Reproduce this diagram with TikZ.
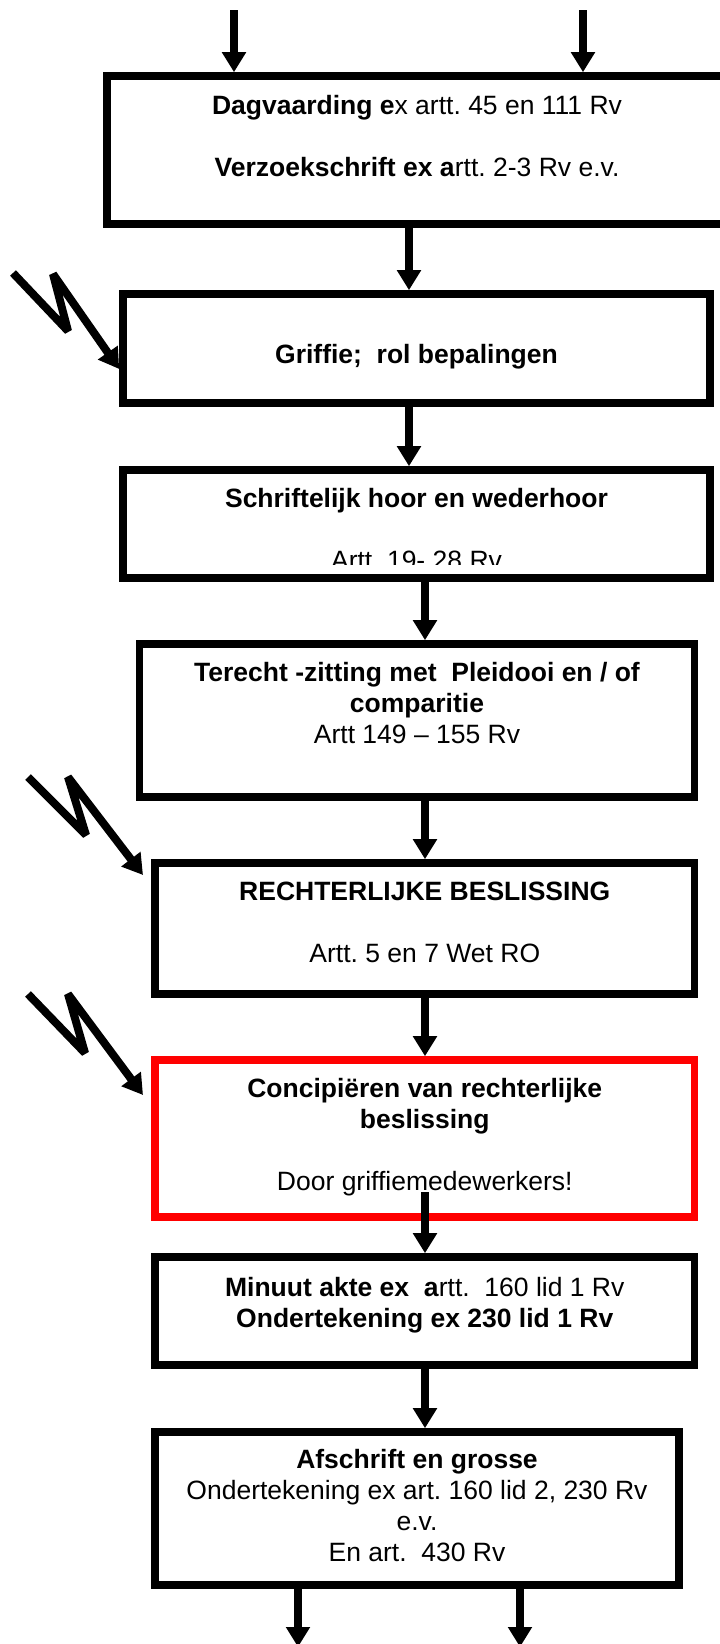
\documentclass[tikz,border=0pt]{standalone}
\usepackage{fontspec}
\setmainfont{Liberation Sans}
\usetikzlibrary{arrows.meta}
\tikzset{
  vak/.style={draw, line width=3.8pt, inner sep=0pt},
  tekst/.style={align=center, inner sep=0pt, font=\fontsize{13.25}{15.5}\selectfont},
  pijl/.style={line width=4pt, -{Triangle[width=11.5pt,length=10pt]}},
  bliksem/.style={line width=4pt, line join=bevel, -{Triangle[width=11.5pt,length=10pt]}}
}
\frenchspacing
\begin{document}
\begin{tikzpicture}[x=0.5pt, y=-0.5pt]
\useasboundingbox (0,0) rectangle (719,1644);
% x-posities van de pijlen tussen de vakken
\def\xa{409}
\def\xb{425}
% Vakken
\node[vak, minimum width=310pt, minimum height=74pt] (dagv) at (417,150) {};
\node[vak, minimum width=293.5pt, minimum height=54.5pt] (griffie) at (416.5,348.5) {};
\node[vak, minimum width=293.5pt, minimum height=54pt] (hoor) at (416.5,524) {};
\node[vak, minimum width=277.5pt, minimum height=76.5pt] (zitting) at (417,720.5) {};
\node[vak, minimum width=269.75pt, minimum height=65.5pt] (beslissing) at (424.75,928.5) {};
\node[vak, draw=red, minimum width=269.75pt, minimum height=78.5pt] (concip) at (424.75,1138.5) {};
\node[vak, minimum width=269.75pt, minimum height=54pt] (minuut) at (424.75,1311) {};
\node[vak, minimum width=262pt, minimum height=76.5pt] (afschrift) at (417,1508.5) {};
% Teksten (anchor=base ligt op de laatste regel)
\node[tekst, anchor=base] (dagvtxt) at (417,176) {\textbf{Dagvaarding e}x artt. 45 en 111 Rv\\[15.5pt]\textbf{Verzoekschrift ex a}rtt. 2-3 Rv e.v.};
\node[tekst, anchor=base] (griffietxt) at (416.5,363) {\textbf{Griffie;~ rol bepalingen}};
\node[tekst, anchor=base] (hoortxt) at (416.5,507) {\textbf{Schriftelijk hoor en wederhoor}};
\begin{scope}
  \clip (127,474) rectangle (706,564);
  \node[tekst, anchor=base] (artttxt) at (416.5,569) {Artt. 19- 28 Rv};
\end{scope}
\node[tekst, anchor=base] (zittingtxt) at (417,743) {\textbf{Terecht -zitting met~ Pleidooi en / of}\\\textbf{comparitie}\\Artt 149 – 155 Rv};
\node[tekst, anchor=base] (beslissingtxt) at (424.75,962) {\textbf{RECHTERLIJKE BESLISSING}\\[15.5pt]Artt. 5 en 7 Wet RO};
\node[tekst, anchor=base] (conciptxt) at (424.75,1190) {\textbf{Concipiëren van rechterlijke}\\\textbf{beslissing}\\[15.5pt]Door griffiemedewerkers!};
\node[tekst, anchor=base] (minuuttxt) at (424.75,1327) {\textbf{Minuut akte ex~ a}rtt.~ 160 lid 1 Rv\\\textbf{Ondertekening ex 230 lid 1 Rv}};
\node[tekst, anchor=base] (afschrifttxt) at (417,1561) {\textbf{Afschrift en grosse}\\Ondertekening ex art. 160 lid 2, 230 Rv\\e.v.\\En art.~ 430 Rv};
% Inkomende en uitgaande pijlen
\coordinate (in1) at (234,10);
\coordinate (in2) at (583,10);
\coordinate (uit1) at (298,1647);
\coordinate (uit2) at (520,1647);
\draw[pijl] (in1) -- (in1 |- dagv.north);
\draw[pijl] (in2) -- (in2 |- dagv.north);
\draw[pijl] (afschrift.south -| uit1) -- (uit1);
\draw[pijl] (afschrift.south -| uit2) -- (uit2);
% Pijlen tussen de vakken
\draw[pijl] (dagv.south -| \xa,0) -- (griffie.north -| \xa,0);
\draw[pijl] (griffie.south -| \xa,0) -- (hoor.north -| \xa,0);
\draw[pijl] (hoor.south -| \xb,0) -- (zitting.north -| \xb,0);
\draw[pijl] (zitting.south -| \xb,0) -- (beslissing.north -| \xb,0);
\draw[pijl] (beslissing.south -| \xb,0) -- (concip.north -| \xb,0);
\coordinate (c6) at (\xb,1192);
\draw[pijl] (c6) -- (c6 |- minuut.north);
\draw[pijl] (minuut.south -| \xb,0) -- (afschrift.north -| \xb,0);
% Bliksemschichten
\coordinate (b1a) at (13,273);
\coordinate (b1b) at (68,331);
\coordinate (b1c) at (53,274);
\draw[bliksem] (b1a) -- (b1b) -- (b1c) -- (griffie.west |- 0,369);
\coordinate (b2a) at (28,777);
\coordinate (b2b) at (86,835);
\coordinate (b2c) at (68,777);
\coordinate (b2d) at (143,875);
\draw[bliksem] (b2a) -- (b2b) -- (b2c) -- (b2d);
\coordinate (b3a) at (28,994);
\coordinate (b3b) at (85,1053);
\coordinate (b3c) at (68,994);
\coordinate (b3d) at (143,1095);
\draw[bliksem] (b3a) -- (b3b) -- (b3c) -- (b3d);
\end{tikzpicture}
\end{document}
